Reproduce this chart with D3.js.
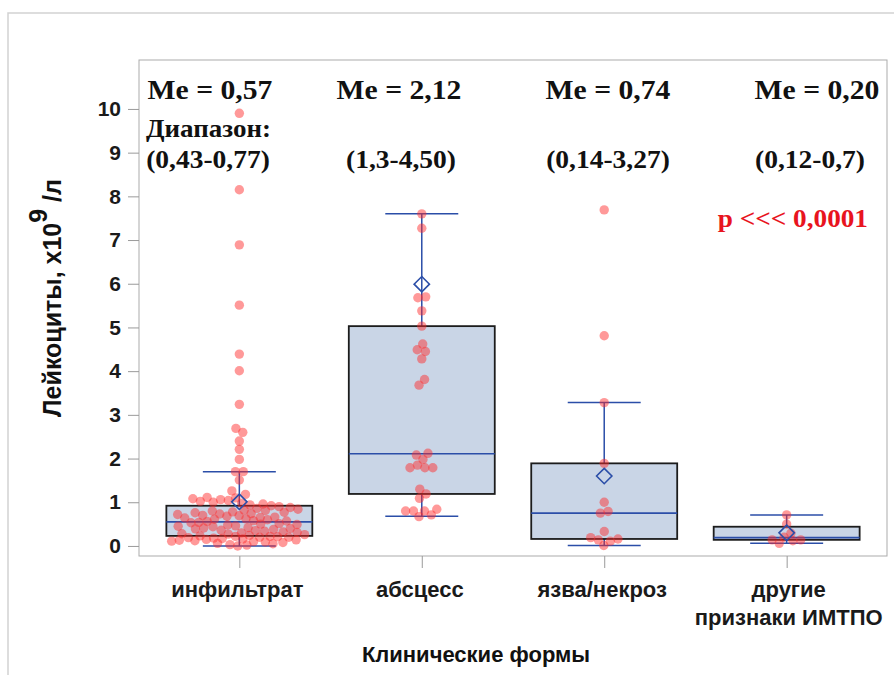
<!DOCTYPE html>
<html lang="ru">
<head>
<meta charset="UTF-8">
<title>Лейкоциты по клиническим формам</title>
<script src="https://cdnjs.cloudflare.com/ajax/libs/d3/7.8.5/d3.min.js"></script>
<style>
  body { margin: 0; background: #fff; }
  svg { display: block; }
</style>
</head>
<body>
<div id="chart"></div>
<script>
// categories and tick labels (multi-line)
const categories = ["инфильтрат", "абсцесс", "язва/некроз", "другие"];
const tickLines = [["инфильтрат"], ["абсцесс"], ["язва/некроз"], ["другие", "признаки ИМТПО"]];

// box statistics
const q1 = [0.23, 1.19, 0.16, 0.14];
const median = [0.55, 2.11, 0.75, 0.19];
const q3 = [0.92, 5.03, 1.89, 0.44];
const whiskerLow = [0.00, 0.68, 0.01, 0.06];
const whiskerHigh = [1.70, 7.60, 3.28, 0.71];
const means = [1.01, 5.99, 1.60, 0.30];

// individual observations
const infiltrat = [
  0.00, 0.02, 0.03, 0.05, 0.06, 0.08, 0.09, 0.10, 0.11, 0.12, 0.13, 0.14, 0.15, 0.16, 0.17,
  0.18, 0.19, 0.20, 0.20, 0.21, 0.22, 0.22, 0.23,
  0.24, 0.26, 0.27, 0.28, 0.30, 0.31, 0.32, 0.34, 0.35, 0.36, 0.38, 0.39, 0.40, 0.41, 0.42,
  0.44, 0.45, 0.46, 0.48, 0.49, 0.50, 0.51, 0.53, 0.54,
  0.56, 0.57, 0.58, 0.60, 0.61, 0.62, 0.64, 0.65, 0.66, 0.68, 0.69, 0.70, 0.72, 0.73, 0.74,
  0.76, 0.77, 0.78, 0.80, 0.81, 0.82, 0.84, 0.86, 0.88,
  0.90, 0.92, 0.94, 0.96, 0.98, 1.00, 1.02, 1.04, 1.06, 1.08, 1.10, 1.11,
  1.18, 1.26, 1.51, 1.70, 1.70, 1.98, 2.21, 2.40, 2.60, 2.69, 3.24, 4.01, 4.39, 5.51, 6.89, 8.15, 9.90
];
const abscess = [7.60, 7.27, 5.70, 5.68, 5.38, 5.03, 4.62, 4.49, 4.45, 4.28, 3.81, 3.68, 2.12, 2.08,
  1.98, 1.85, 1.79, 1.79, 1.79, 1.30, 1.19, 1.09, 0.80, 0.80, 0.84, 0.80, 0.67, 0.71];
const ulcer = [7.69, 4.81, 3.28, 1.89, 1.00, 0.79, 0.75, 0.33, 0.19, 0.16, 0.11, 0.14, 0.01];
const other = [0.71, 0.50, 0.29, 0.20, 0.14, 0.14, 0.06, 0.12];
const groups = [infiltrat, abscess, ulcer, other];

// annotations
const medLabels = ["Me = 0,57", "Me = 2,12", "Me = 0,74", "Me = 0,20"];
const rangeLabels = ["(0,43-0,77)", "(1,3-4,50)", "(0,14-3,27)", "(0,12-0,7)"];
const yTicks = [0, 1, 2, 3, 4, 5, 6, 7, 8, 9, 10];

const width = 894, height = 675;
const plot = { left: 139, top: 60, right: 887, bottom: 556 };
const blue = "#2b4ea8";

const svg = d3.select("#chart").append("svg")
  .attr("width", width)
  .attr("height", height);

// outer frame of the figure
svg.append("path")
  .attr("d", `M8,${height} V13 H${width}`)
  .attr("fill", "none")
  .attr("stroke", "#d2d2d2")
  .attr("stroke-width", 1.5);

const x = d3.scalePoint()
  .domain(categories)
  .range([plot.left, plot.right])
  .padding(0.55);

const y = d3.scaleLinear()
  .domain([-0.23, 11.12])
  .range([plot.bottom, plot.top]);

const boxW = x.step() * 0.8;
const capW = boxW / 2;

// plot frame
svg.append("rect")
  .attr("x", plot.left).attr("y", plot.top)
  .attr("width", plot.right - plot.left)
  .attr("height", plot.bottom - plot.top)
  .attr("fill", "none")
  .attr("stroke", "#ababab");

// y axis
const yAxis = svg.append("g")
  .attr("transform", `translate(${plot.left},0)`)
  .call(d3.axisLeft(y).tickValues(yTicks).tickSize(11).tickPadding(7));
yAxis.select(".domain").remove();
yAxis.selectAll("line").attr("stroke", "#9a9a9a");
yAxis.selectAll("text")
  .attr("font-family", "Liberation Sans, Arial, sans-serif")
  .attr("font-weight", "bold")
  .attr("font-size", 21)
  .attr("fill", "#1a1a1a");

// x axis
const xAxis = svg.append("g")
  .attr("transform", `translate(0,${plot.bottom})`)
  .call(d3.axisBottom(x).tickSize(12).tickFormat(""));
xAxis.select(".domain").remove();
xAxis.selectAll("line").attr("stroke", "#9a9a9a");

const xl = svg.append("g")
  .attr("font-family", "Liberation Sans, Arial, sans-serif")
  .attr("font-weight", "bold")
  .attr("font-size", 22)
  .attr("fill", "#1a1a1a")
  .attr("text-anchor", "middle");
categories.forEach((c, i) => {
  tickLines[i].forEach((line, j) => {
    xl.append("text")
      .attr("x", x(c) + (tickLines[i].length > 1 ? 2 : -2))
      .attr("y", 597 + j * 28)
      .text(line);
  });
});

// axis titles
svg.append("text")
  .attr("x", 476).attr("y", 662)
  .attr("text-anchor", "middle")
  .attr("font-family", "Liberation Sans, Arial, sans-serif")
  .attr("font-weight", "bold")
  .attr("font-size", 22)
  .attr("fill", "#111")
  .text("Клинические формы");

const yt = svg.append("text")
  .attr("transform", "translate(61,298) rotate(-90)")
  .attr("text-anchor", "middle")
  .attr("font-family", "Liberation Sans, Arial, sans-serif")
  .attr("font-weight", "bold")
  .attr("font-size", 25)
  .attr("fill", "#111");
yt.append("tspan").text("Лейкоциты, x10");
yt.append("tspan").attr("dy", -14).text("9");
yt.append("tspan").attr("dy", 14).text(" /л");

// boxes
const boxes = svg.append("g");
categories.forEach((c, i) => {
  const cx = x(c);
  const g = boxes.append("g");
  // whisker stems
  g.append("line")
    .attr("x1", cx).attr("x2", cx)
    .attr("y1", y(q3[i])).attr("y2", y(whiskerHigh[i]))
    .attr("stroke", blue).attr("stroke-width", 1.5);
  g.append("line")
    .attr("x1", cx).attr("x2", cx)
    .attr("y1", y(q1[i])).attr("y2", y(whiskerLow[i]))
    .attr("stroke", blue).attr("stroke-width", 1.5);
  [whiskerHigh[i], whiskerLow[i]].forEach(v => {
    g.append("line")
      .attr("x1", cx - capW / 2).attr("x2", cx + capW / 2)
      .attr("y1", y(v)).attr("y2", y(v))
      .attr("stroke", blue).attr("stroke-width", 1.5);
  });
  g.append("rect")
    .attr("x", cx - boxW / 2)
    .attr("y", y(q3[i]))
    .attr("width", boxW)
    .attr("height", y(q1[i]) - y(q3[i]))
    .attr("fill", "#c9d5e6")
    .attr("stroke", "#1c1c1c")
    .attr("stroke-width", 1.8);
  g.append("line")
    .attr("x1", cx - boxW / 2).attr("x2", cx + boxW / 2)
    .attr("y1", y(median[i])).attr("y2", y(median[i]))
    .attr("stroke", blue).attr("stroke-width", 1.6);
});

// jittered points: a small collision layout keeps them side by side
const pts = svg.append("g");
groups.forEach((vals, i) => {
  const cx = x(categories[i]);
  const nodes = vals.slice().sort((a, b) => a - b).map((v, k) => ({
    v: v,
    x: cx + (k % 2 ? 1 : -1) * (k % 7) * 0.7,
    y: y(v),
    fy: y(v)
  }));
  const sim = d3.forceSimulation(nodes)
    .force("x", d3.forceX(cx).strength(0.08))
    .force("collide", d3.forceCollide(3.95))
    .stop();
  for (let t = 0; t < 300; t++) sim.tick();

  pts.selectAll(null)
    .data(nodes)
    .join("circle")
    .attr("cx", d => d.x)
    .attr("cy", d => d.fy)
    .attr("r", 4.7)
    .attr("fill", "#ff2a2a")
    .attr("fill-opacity", 0.48);
});

// mean diamonds
svg.append("g").selectAll("path")
  .data(means)
  .join("path")
  .attr("transform", (d, i) => `translate(${x(categories[i])},${y(d)})`)
  .attr("d", d3.symbol(d3.symbolDiamond2, 150))
  .attr("fill", "none")
  .attr("stroke", blue)
  .attr("stroke-width", 1.6);

// annotations (serif text in the source is a bit wider than Liberation Serif)
const meCenters = [210, 399, 608, 817];
const rangeCenters = [208, 401, 608, 810];

const ann = svg.append("g")
  .attr("font-family", "Liberation Serif, Times New Roman, serif")
  .attr("font-weight", "bold")
  .attr("fill", "#111")
  .attr("text-anchor", "middle");

ann.selectAll(".me")
  .data(medLabels)
  .join("text")
  .attr("class", "me")
  .attr("transform", (d, i) => `translate(${meCenters[i]},99) scale(1.06,1)`)
  .attr("font-size", 28)
  .text(d => d);

ann.selectAll(".rng")
  .data(rangeLabels)
  .join("text")
  .attr("class", "rng")
  .attr("transform", (d, i) => `translate(${rangeCenters[i]},168) scale(1.1,1)`)
  .attr("font-size", 25)
  .text(d => d);

ann.append("text")
  .attr("transform", "translate(146,137) scale(1.08,1)")
  .attr("text-anchor", "start")
  .attr("font-size", 25)
  .text("Диапазон:");

svg.append("text")
  .attr("transform", "translate(868,227) scale(1.09,1)")
  .attr("text-anchor", "end")
  .attr("font-family", "Liberation Serif, Times New Roman, serif")
  .attr("font-weight", "bold")
  .attr("font-size", 25)
  .attr("fill", "#e8141e")
  .text("p <<< 0,0001");
</script>
</body>
</html>
